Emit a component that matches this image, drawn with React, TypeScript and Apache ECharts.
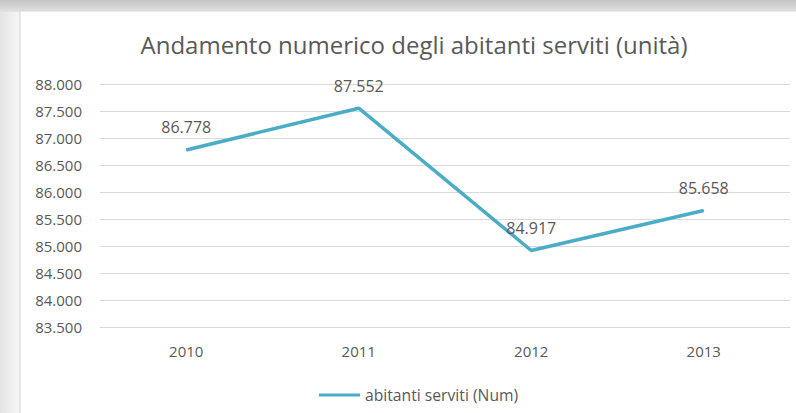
import React, { useEffect, useRef } from "react";
import * as echarts from "echarts";

const years = ["2010", "2011", "2012", "2013"];
const abitantiServiti = [86778, 87552, 84917, 85658];
const seriesName = "abitanti serviti (Num)";
const titleText = "Andamento numerico degli abitanti serviti (unità)";

const fmt = (v: number) => (v / 1000).toFixed(3);

export default function App() {
  const ref = useRef<HTMLDivElement>(null);
  useEffect(() => {
    document.body.style.margin = "0";
    const chart = echarts.init(ref.current!, null, { renderer: "svg" });
    const font = "'Open Sans', 'Noto Sans', sans-serif";
    chart.setOption({
      animation: false,
      backgroundColor: "#ffffff",
      textStyle: { fontFamily: font },
      graphic: [
        {
          type: "rect",
          z: -10,
          shape: { x: 0, y: 0, width: 796, height: 413 },
          style: {
            fill: new echarts.graphic.LinearGradient(0, 0, 1, 0, [
              { offset: 0, color: "#e4e4e4" },
              { offset: 0.025, color: "#f6f6f6" },
              { offset: 1, color: "#f6f6f6" },
            ]),
          },
          silent: true,
        },
        {
          type: "rect",
          z: -9,
          shape: { x: 0, y: 0, width: 796, height: 12 },
          style: {
            fill: new echarts.graphic.LinearGradient(0, 0, 0, 1, [
              { offset: 0, color: "#c4c4c4" },
              { offset: 1, color: "#e2e2e2" },
            ]),
          },
          silent: true,
        },
        {
          type: "rect",
          z: -8,
          shape: { x: 20, y: 11, width: 780, height: 410 },
          style: { fill: "#ffffff", stroke: "#d4d4d4", lineWidth: 1 },
          silent: true,
        },
      ],
      title: {
        text: titleText,
        left: 409,
        top: 27,
        textAlign: "center",
        textStyle: {
          fontFamily: font,
          fontSize: 24,
          fontWeight: "normal",
          color: "#595959",
        },
      },
      legend: {
        left: 314,
        top: 382,
        icon: "rect",
        itemWidth: 41,
        itemHeight: 3,
        textStyle: { fontFamily: font, fontSize: 15.7, color: "#595959" },
        data: [seriesName],
      },
      grid: { left: 100, right: 6, top: 84, bottom: 86 },
      xAxis: {
        type: "category",
        data: years,
        boundaryGap: true,
        axisLine: { show: true, lineStyle: { color: "#d9d9d9", width: 1 } },
        axisTick: { show: false },
        axisLabel: {
          fontFamily: font,
          fontSize: 15,
          color: "#595959",
          margin: 16,
        },
      },
      yAxis: {
        type: "value",
        min: 83500,
        max: 88000,
        interval: 500,
        axisLine: { show: false },
        axisTick: { show: false },
        splitLine: { lineStyle: { color: "#d9d9d9", width: 1 } },
        axisLabel: {
          fontFamily: font,
          fontSize: 15,
          color: "#595959",
          margin: 18,
          formatter: (v: number) => fmt(v),
        },
      },
      series: [
        {
          name: seriesName,
          type: "line",
          data: abitantiServiti,
          symbol: "circle",
          symbolSize: 1,
          showSymbol: true,
          lineStyle: { color: "#4bacc6", width: 3.5 },
          itemStyle: { color: "#4bacc6" },
          label: {
            show: true,
            position: "top",
            distance: 14,
            fontFamily: font,
            fontSize: 16,
            color: "#595959",
            formatter: (p: any) => fmt(p.value),
          },
        },
      ],
    });
    return () => chart.dispose();
  }, []);
  return (
    <div
      ref={ref}
      style={{ position: "absolute", left: 0, top: 0, width: 796, height: 413 }}
    />
  );
}
